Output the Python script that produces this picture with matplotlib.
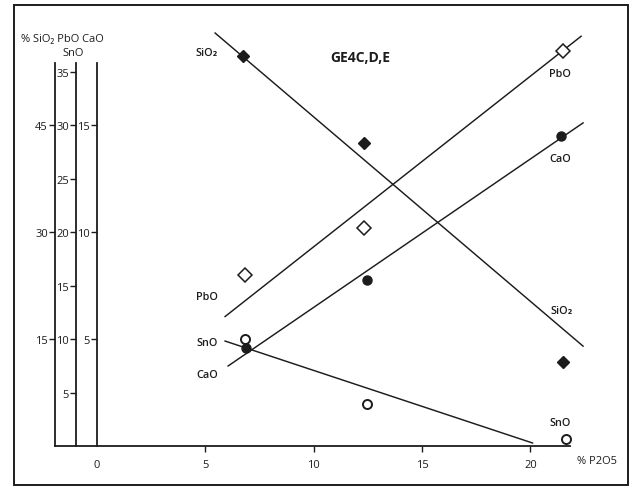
import matplotlib
matplotlib.use("Agg")
import matplotlib.pyplot as plt
from matplotlib.patches import Rectangle

plt.rcParams['font.family'] = ['Open Sans', 'DejaVu Sans']

INK = '#1c1c1c'

# --- data (x = % P2O5) ---
sio2_x = [6.74, 12.3, 21.5]
sio2_y = [54.7, 42.5, 11.8]          # % SiO2
pbo_x = [6.83, 12.3, 21.5]
pbo_y = [16.0, 20.4, 36.9]           # % PbO
cao_x = [6.88, 12.46, 21.41]
cao_y = [4.6, 7.75, 14.5]            # % CaO
sno_x = [6.83, 12.46, 21.64]
sno_y = [10.0, 3.9, 0.65]            # % SnO (PbO scale)

# fitted trend lines (end points)
sio2_fit_x = [5.45, 22.43]
sio2_fit_y = [57.9, 14.0]
pbo_fit_x = [5.91, 22.34]
pbo_fit_y = [12.1, 38.3]
cao_fit_x = [6.05, 22.43]
cao_fit_y = [3.74, 15.1]
sno_fit_x = [5.91, 20.1]
sno_fit_y = [9.81, 0.28]

x_ticks = [0, 5, 10, 15, 20]
pbo_ticks = [5, 10, 15, 20, 25, 30, 35]
sio2_ticks = [15, 30, 45]
cao_ticks = [5, 10, 15]

# scale factors of the stacked y axes relative to the PbO/SnO axis
SIO2_F = 1.5
CAO_F = 0.5

fig = plt.figure(figsize=(6.34, 4.89), dpi=100)
ax = fig.add_axes([0, 0, 1, 1])
ax.patch.set_alpha(0)
ylo, yhi = -3.925, 41.78
ax.set_xlim(-4.476, 24.78)
ax.set_ylim(ylo, yhi)

ax_si = ax.twinx()
ax_si.set_ylim(ylo * SIO2_F, yhi * SIO2_F)
ax_ca = ax.twinx()
ax_ca.set_ylim(ylo * CAO_F, yhi * CAO_F)

axis_top = 35.8
axis_pos = {ax_si: -1.94, ax: -0.97, ax_ca: 0.0}
factor = {ax_si: SIO2_F, ax: 1.0, ax_ca: CAO_F}
ticks = {ax_si: sio2_ticks, ax: pbo_ticks, ax_ca: cao_ticks}

for a in (ax, ax_si, ax_ca):
    for s in ('top', 'right', 'bottom', 'left'):
        a.spines[s].set_visible(False)
    a.spines['left'].set_visible(True)
    a.spines['left'].set_position(('data', axis_pos[a]))
    a.spines['left'].set_bounds(0, axis_top * factor[a])
    a.spines['left'].set_color(INK)
    a.spines['left'].set_linewidth(1.3)
    a.yaxis.set_ticks_position('left')
    a.yaxis.set_label_position('left')
    a.set_yticks(ticks[a])
    a.tick_params(axis='y', which='both', left=True, right=False,
                  labelleft=True, labelright=False, direction='out',
                  length=4, width=1.0, pad=1.0, labelsize=8,
                  colors=INK)

# x axis
ax.spines['bottom'].set_visible(True)
ax.spines['bottom'].set_position(('data', 0))
ax.spines['bottom'].set_bounds(-1.94, 21.83)
ax.spines['bottom'].set_color(INK)
ax.spines['bottom'].set_linewidth(1.3)
ax.set_xticks(x_ticks)
ax.tick_params(axis='x', direction='out', length=4.5, width=1.0, pad=5,
               labelsize=8, colors=INK)
ax.xaxis.get_major_ticks()[0].tick1line.set_visible(False)
ax_si.tick_params(axis='x', bottom=False, labelbottom=False)
ax_ca.tick_params(axis='x', bottom=False, labelbottom=False)

lw = 1.05
# SiO2
ax_si.plot(sio2_fit_x, sio2_fit_y, color=INK, lw=lw)
ax_si.plot(sio2_x, sio2_y, 'D', ms=6.5, color=INK, mec=INK)
# PbO
ax.plot(pbo_fit_x, pbo_fit_y, color=INK, lw=lw)
ax.plot(pbo_x, pbo_y, 'D', ms=7, mfc='white', mec=INK, mew=1.1)
# SnO
ax.plot(sno_fit_x, sno_fit_y, color=INK, lw=lw)
ax.plot(sno_x, sno_y, 'o', ms=6.5, mfc='white', mec=INK, mew=1.4)
# CaO
ax_ca.plot(cao_fit_x, cao_fit_y, color=INK, lw=lw)
ax_ca.plot(cao_x, cao_y, 'o', ms=6.5, color=INK)

lab = dict(fontsize=7.8, color=INK, ha='center', va='center', weight='semibold')
ax.text(5.08, 36.8, 'SiO₂', **lab)
ax.text(21.37, 34.8, 'PbO', **lab)
ax.text(21.37, 26.9, 'CaO', **lab)
ax.text(5.08, 14.0, 'PbO', **lab)
ax.text(5.08, 9.72, 'SnO', **lab)
ax.text(5.08, 6.73, 'CaO', **lab)
ax.text(21.46, 12.7, 'SiO₂', **lab)
ax.text(21.37, 2.24, 'SnO', **lab)
ax.text(12.14, 36.4, 'GE4C,D,E', fontsize=10, weight='bold', color=INK,
        ha='center', va='center')
ax.text(23.07, -1.40, '% P2O5', fontsize=8, color=INK, ha='center', va='center')

# header over the stacked y axes
ax.text(-3.5, 38.1, '% SiO₂ PbO CaO', fontsize=8, color=INK, ha='left', va='center')
ax.text(-1.11, 36.75, 'SnO', fontsize=8, color=INK, ha='center', va='center')

# outer frame
fig.patches.append(Rectangle((14 / 634, 1 - 486 / 489), 614 / 634, 480 / 489,
                             transform=fig.transFigure, fill=False,
                             edgecolor=INK, lw=1.4))

fig.savefig('out.png', dpi=100, facecolor='white')
